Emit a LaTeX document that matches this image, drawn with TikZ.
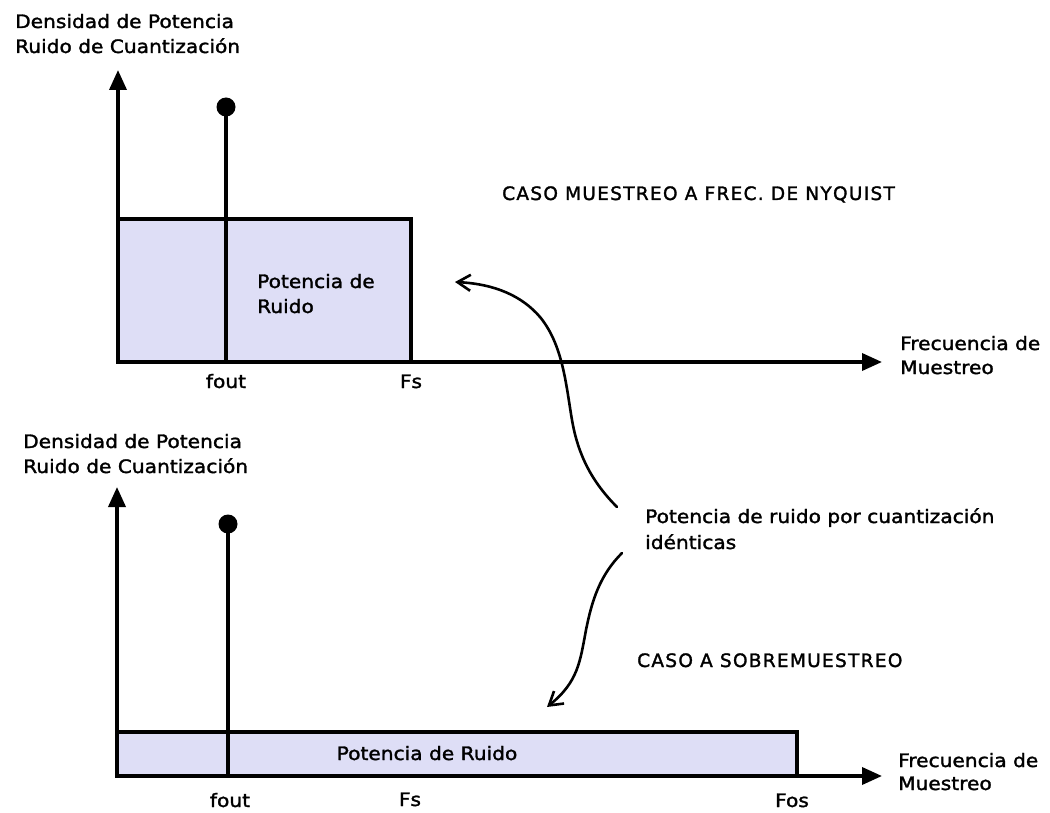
\documentclass[tikz,border=0pt]{standalone}
\usepackage{fontspec}
\setmainfont{DejaVu Sans}[FakeStretch=1.09,FakeBold=1.6]
\newfontfamily\capsfont{DejaVu Sans}[LetterSpace=7,FakeBold=1.6]
\usetikzlibrary{arrows.meta}
\definecolor{noisefill}{RGB}{222,222,246}

\begin{document}
\begin{tikzpicture}[x=1pt,y=-1pt,
  axisline/.style={line width=3.6pt,-{Triangle[length=20pt,width=17pt]}},
  noisebox/.style={fill=noisefill,draw=black,line width=3.4pt},
  stem/.style={line width=3.4pt},
  tone/.style={circle,fill=black,minimum size=19pt,inner sep=0pt},
  lbl/.style={anchor=base west,inner sep=0pt,font=\fontsize{18.5}{22}\selectfont},
  tick/.style={anchor=base,inner sep=0pt,font=\fontsize{18.5}{22}\selectfont},
  caso/.style={anchor=base west,inner sep=0pt,font=\capsfont\fontsize{18.5}{22}\selectfont},
  curve/.style={line width=2.6pt,line cap=round,-{Straight Barb[length=13pt,width=16pt]}}
]
\useasboundingbox (0,0) rectangle (1050,813);
\fill[white] (0,0) rectangle (1050,813);

% ---------- Nyquist-rate case ----------
\coordinate (o1) at (118,362);
\coordinate (y1) at (118,70);
\coordinate (x1) at (882,362);
\coordinate (s1) at (226,362);
\node[tone] (dot1) at (226,107) {};
\draw[noisebox] (118,219) rectangle (411,362);
\draw[stem] (dot1.center) -- (s1);
\draw[axisline] (o1) -- (y1);
\draw[axisline] (o1) -- (x1);

\node[lbl] (ya1) at (15,28) {Densidad de Potencia};
\node[lbl] (yb1) at (15,53) {Ruido de Cuantización};
\node[lbl] (xa1) at (900,350) {Frecuencia de};
\node[lbl] (xb1) at (900,374) {Muestreo};
\node[tick] (fout1) at (226,388) {fout};
\node[tick] (fs1) at (411,388) {Fs};
\node[lbl] (pa1) at (257,288) {Potencia de};
\node[lbl] (pb1) at (257,313) {Ruido};
\node[caso] (caso1) at (502,200) {CASO MUESTREO A FREC. DE NYQUIST};

% ---------- Oversampled case ----------
\coordinate (o2) at (117,776);
\coordinate (y2) at (117,487);
\coordinate (x2) at (882,776);
\coordinate (s2) at (228,776);
\node[tone] (dot2) at (228,524) {};
\draw[noisebox] (117,732) rectangle (797,776);
\draw[stem] (dot2.center) -- (s2);
\draw[axisline] (o2) -- (y2);
\draw[axisline] (o2) -- (x2);

\node[lbl] (ya2) at (23,448) {Densidad de Potencia};
\node[lbl] (yb2) at (23,473) {Ruido de Cuantización};
\node[lbl] (xa2) at (898,767) {Frecuencia de};
\node[lbl] (xb2) at (898,790) {Muestreo};
\node[tick] (fout2) at (230,807) {fout};
\node[tick] (fs2) at (410,806) {Fs};
\node[tick] (fos2) at (792,807) {Fos};
\node[tick] (pr2) at (427,760) {Potencia de Ruido};
\node[caso] (caso2) at (637,667) {CASO A SOBREMUESTREO};

% ---------- common note with its two pointers ----------
\node[lbl] (na) at (645,523) {Potencia de ruido por cuantización};
\node[lbl] (nb) at (645,549) {idénticas};

\coordinate (up0) at (617,507);
\coordinate (up1) at (455,282);
\draw[curve] (up0) .. controls (592,482) and (578,455) .. (572,420)
  .. controls (566,385) and (563,345) .. (540,317)
  .. controls (522,296) and (495,284) .. (up1);

\coordinate (dn0) at (622,553);
\coordinate (dn1) at (547,707);
\draw[curve] (dn0) .. controls (600,575) and (592,600) .. (586,630)
  .. controls (580,662) and (578,682) .. (dn1);
\end{tikzpicture}
\end{document}
